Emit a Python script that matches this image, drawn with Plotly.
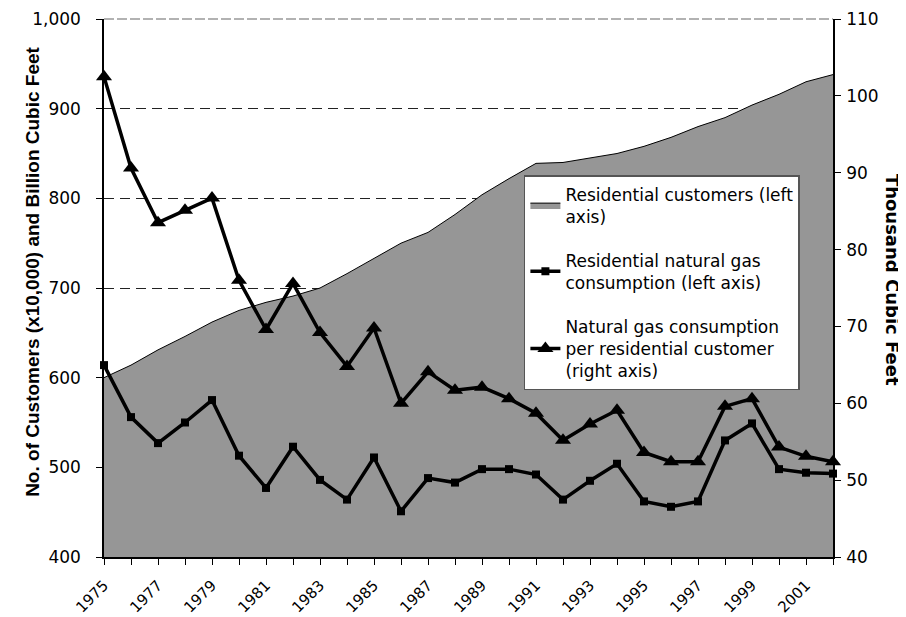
import plotly.graph_objects as go

# Data
years = list(range(1975, 2003))
customers = [600, 614, 631, 646, 662, 675, 684, 691, 700, 716, 733, 750, 762, 782,
             804, 822, 839, 840, 845, 850, 858, 868, 880, 890, 904, 916, 930, 938]
consumption = [614, 556, 527, 550, 575, 513, 477, 523, 486, 464, 511, 451, 488, 483,
               498, 498, 492, 464, 485, 504, 462, 456, 462, 530, 549, 498, 494, 493]
per_customer = [102.5, 90.6, 83.5, 85.1, 86.7, 76.0, 69.6, 75.6, 69.2, 64.8, 69.8, 60.0,
                64.1, 61.7, 62.1, 60.6, 58.7, 55.2, 57.3, 59.1, 53.6, 52.4, 52.4, 59.6,
                60.6, 54.3, 53.1, 52.4]
tick_text = [str(y) if y % 2 == 1 else "" for y in years]

FONT = "DejaVu Sans, Arial, sans-serif"

fig = go.Figure()

fig.add_trace(go.Scatter(
    x=years, y=customers, name="Residential customers (left<br>axis)",
    mode="lines", fill="tozeroy", fillcolor="#969696",
    line=dict(color="black", width=1), legendgroup="a"))

fig.add_trace(go.Scatter(
    x=years, y=consumption, name="Residential natural gas<br>consumption (left axis)",
    mode="lines+markers", line=dict(color="black", width=3.5),
    marker=dict(symbol="square", size=8, color="black"),
    cliponaxis=False, legendgroup="b"))

fig.add_trace(go.Scatter(
    x=years, y=per_customer, yaxis="y2",
    name="Natural gas consumption<br>per residential customer<br>(right axis)",
    mode="lines+markers", line=dict(color="black", width=3.5),
    marker=dict(symbol="triangle-up", size=14, color="black"),
    cliponaxis=False, legendgroup="c"))

# page body adds an 8px offset, margins compensate for it
fig.update_layout(
    width=906, height=617,
    margin=dict(l=96, r=81, t=11, b=68, autoexpand=False),
    paper_bgcolor="white", plot_bgcolor="white",
    font=dict(family=FONT, size=17, color="black"),
    showlegend=True,
    legend=dict(x=0.576, y=0.71, xanchor="left", yanchor="top",
                bgcolor="white", bordercolor="#555", borderwidth=1.5,
                font=dict(size=17), traceorder="grouped", tracegroupgap=19,
                itemwidth=30),
    xaxis=dict(range=[1975, 2002], tickvals=years, ticktext=tick_text,
               tickangle=-45, ticks="outside", ticklen=6, tickcolor="black",
               showline=True, linecolor="black", linewidth=1.5,
               showgrid=False, zeroline=False, tickfont=dict(size=15),
               ticklabelstandoff=6),
    yaxis=dict(range=[400, 1000], dtick=100, tickformat=",",
               ticks="outside", ticklen=6, tickcolor="black",
               showline=True, linecolor="black", linewidth=1.5,
               showgrid=True, gridcolor="#222", griddash="10px,6px", gridwidth=1,
               zeroline=False, ticklabelstandoff=12),
    yaxis2=dict(range=[40, 110], dtick=10, overlaying="y", side="right",
                ticks="outside", ticklen=6, tickcolor="black",
                showline=True, linecolor="black", linewidth=1.5,
                showgrid=False, zeroline=False, ticklabelstandoff=2),
    shapes=[dict(type="line", xref="paper", yref="paper", x0=0, x1=1, y0=1, y1=1,
                 line=dict(color="#999", width=1.5, dash="10px,3px"))],
    annotations=[
        dict(text="<b>No. of Customers (x10,000) and Billion Cubic Feet</b>",
             xref="paper", yref="paper", x=-0.0974, y=0.53, textangle=-90,
             xanchor="center", yanchor="middle", showarrow=False,
             font=dict(family="Liberation Sans Narrow, Liberation Sans, Arial", size=19)),
        dict(text="<b>Thousand Cubic Feet</b>",
             xref="paper", yref="paper", x=1.081, y=0.515, textangle=90,
             xanchor="center", yanchor="middle", showarrow=False,
             font=dict(size=18)),
    ],
)

fig.write_html("out.html")
